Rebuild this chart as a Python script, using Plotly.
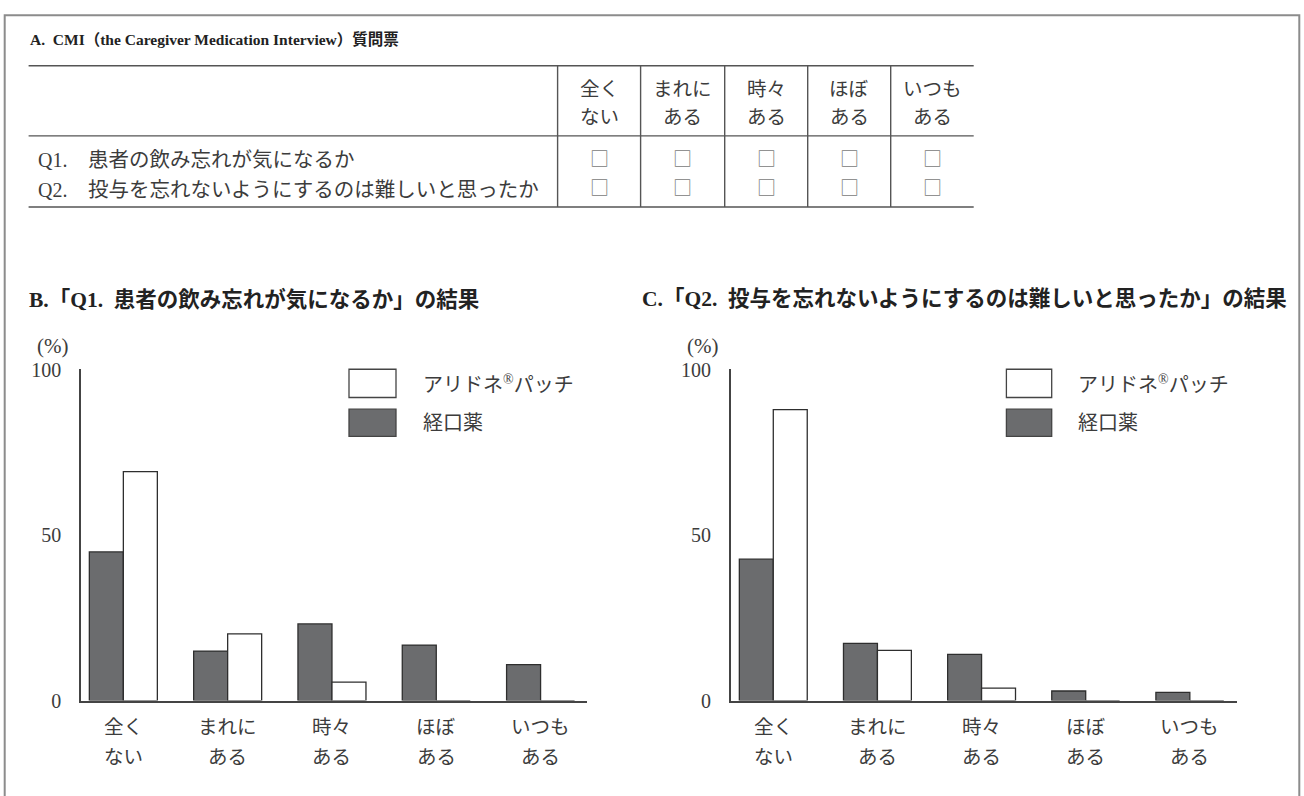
import plotly.graph_objects as go

# ---------------- data ----------------
categories = ["全くない", "まれにある", "時々ある", "ほぼある", "いつもある"]
label_line1 = ["全く", "まれに", "時々", "ほぼ", "いつも"]
label_line2 = ["ない", "ある", "ある", "ある", "ある"]

q1_oral = [45.0, 15.0, 23.2, 16.8, 10.9]
q1_patch = [69.3, 20.2, 5.6, 0, 0]
q2_oral = [42.8, 17.3, 14.0, 2.9, 2.5]
q2_patch = [88.1, 15.2, 3.8, 0, 0]

y_ticks = [0, 50, 100]
series_names = ["経口薬", "アリドネ<sup>®</sup>パッチ"]

table_title = "A.  CMI（the Caregiver Medication Interview）質問票"
questions_no = ["Q1.", "Q2."]
questions = ["患者の飲み忘れが気になるか", "投与を忘れないようにするのは難しいと思ったか"]
title_b = "B.「Q1.  患者の飲み忘れが気になるか」の結果"
title_c = "C.「Q2.  投与を忘れないようにするのは難しいと思ったか」の結果"
unit_label = "(%)"
checkbox = "□"

# ---------------- helpers ----------------
W, H = 1304, 796
def X(px):
    return px / W
def Y(py):
    return 1 - py / H

FONT = "Liberation Serif, Noto Sans CJK JP, serif"
CJK = "Noto Sans CJK JP"
TXT = "#3c3c3c"
DARK = "#6b6c6e"
EDGE = "#2e2e2e"
AX = "#444444"

fig = go.Figure()

# bars
for xa, ya, oral, patch in [("x", "y", q1_oral, q1_patch), ("x2", "y2", q2_oral, q2_patch)]:
    fig.add_trace(go.Bar(x=categories, y=oral, name=series_names[0], xaxis=xa, yaxis=ya,
                         marker=dict(color=DARK, line=dict(color=EDGE, width=1.3)),
                         showlegend=False, hoverinfo="x+y"))
    fig.add_trace(go.Bar(x=categories, y=patch, name=series_names[1], xaxis=xa, yaxis=ya,
                         marker=dict(color="white", line=dict(color=EDGE, width=1.3)),
                         showlegend=False, hoverinfo="x+y"))

y0_px, ytop_px = 709.3, 369.0
ydom = [Y(y0_px), Y(ytop_px)]
ymax = (y0_px - ytop_px) / 3.393

axis_common = dict(showline=True, linecolor=AX, linewidth=1.5, showgrid=False,
                   zeroline=False, ticks="", fixedrange=True)
xaxis_common = dict(axis_common, type="category", showticklabels=False)
yaxis_common = dict(axis_common, range=[0, ymax], tickmode="array", tickvals=y_ticks,
                    tickfont=dict(family=FONT, size=20, color=TXT), ticklabelstandoff=14)

fig.update_layout(
    width=W, height=H,
    margin=dict(l=0, r=0, t=0, b=0),
    paper_bgcolor="white", plot_bgcolor="white",
    barmode="group", bargap=0.348, bargroupgap=0,
    xaxis=dict(xaxis_common, domain=[X(81), X(587)], range=[-0.406, 4.445], anchor="y"),
    yaxis=dict(yaxis_common, domain=ydom, anchor="x"),
    xaxis2=dict(xaxis_common, domain=[X(730.7), X(1236.7)], range=[-0.409, 4.45], anchor="y2"),
    yaxis2=dict(yaxis_common, domain=ydom, anchor="x2"),
    font=dict(family=FONT, color=TXT),
)

shapes = []
ann = []

def text(x, y, s, size=20, anchor="left", bold=False, color=TXT, family=FONT):
    ann.append(dict(x=x, y=y, xref="paper", yref="paper", text=("<b>%s</b>" % s) if bold else s,
                    showarrow=False, xanchor=anchor, yanchor="middle",
                    font=dict(family=family, size=size, color=color)))

# outer frame
shapes.append(dict(type="rect", xref="paper", yref="paper", x0=X(4.7), x1=X(1299.3),
                   y0=Y(5.3), y1=Y(820), line=dict(color="#8c8c8c", width=2)))

# ---- table A ----
text(X(28.3), Y(30), table_title, size=15.5, bold=True, color="#222")
tl, tr = 28.6, 973.7
line_col = "#555555"
for yy in [57.3, 129.3, 202.3]:
    shapes.append(dict(type="line", xref="paper", yref="paper", x0=X(tl), x1=X(tr),
                       y0=Y(yy), y1=Y(yy), line=dict(color=line_col, width=1.4)))
dividers = [557.6, 640.6, 724.7, 807.7, 890.7]
for xx in dividers:
    shapes.append(dict(type="line", xref="paper", yref="paper", x0=X(xx), x1=X(xx),
                       y0=Y(57.3), y1=Y(202.3), line=dict(color=line_col, width=1.4)))
col_centers = [(dividers[i] + (dividers[i + 1] if i + 1 < len(dividers) else tr)) / 2
               for i in range(len(dividers))]
for i, c in enumerate(col_centers):
    text(X(c), Y(82), label_line1[i], size=19.5, anchor="center")
    text(X(c), Y(110.5), label_line2[i], size=19.5, anchor="center")
row_y = [154, 184.5]
for r in range(2):
    text(X(36), Y(row_y[r]), questions_no[r], size=20, anchor="left")
    text(X(86), Y(row_y[r]), questions[r], size=20.5, anchor="left")
    for c in col_centers:
        text(X(c), Y(row_y[r] - 3), checkbox, size=19, anchor="center",
             color="#7a7a7a", family=CJK)

# ---- chart titles ----
text(X(27), Y(297), title_b, size=21.5, bold=True, color="#222")
text(X(640), Y(297), title_c, size=21.5, bold=True, color="#222")

# ---- unit labels ----
text(X(35), Y(345), unit_label, size=21, anchor="left")
text(X(685), Y(345), unit_label, size=21, anchor="left")

# ---- x category labels ----
for xr in ["x", "x2"]:
    for i, cat in enumerate(categories):
        for line, yy in [(label_line1[i], 737), (label_line2[i], 768)]:
            ann.append(dict(x=cat, y=Y(yy), xref=xr, yref="paper", text=line,
                            showarrow=False, xanchor="center", yanchor="middle",
                            font=dict(family=FONT, size=19.5, color=TXT)))

# ---- legends ----
for bx0, bx1, tx in [(349, 396, 421), (1006.4, 1051.7, 1076)]:
    shapes.append(dict(type="rect", xref="paper", yref="paper", x0=X(bx0), x1=X(bx1),
                       y0=Y(369), y1=Y(398), fillcolor="white", line=dict(color=AX, width=1.3)))
    shapes.append(dict(type="rect", xref="paper", yref="paper", x0=X(bx0), x1=X(bx1),
                       y0=Y(410), y1=Y(438), fillcolor=DARK, line=dict(color=AX, width=1.3)))
    text(X(tx), Y(384), series_names[1], size=20, anchor="left")
    text(X(tx), Y(424), series_names[0], size=20, anchor="left")

fig.update_layout(shapes=shapes, annotations=ann)
fig.write_html("out.html", config={"displayModeBar": False},
               post_script="document.body.style.margin='0px';document.body.style.overflow='hidden';")
